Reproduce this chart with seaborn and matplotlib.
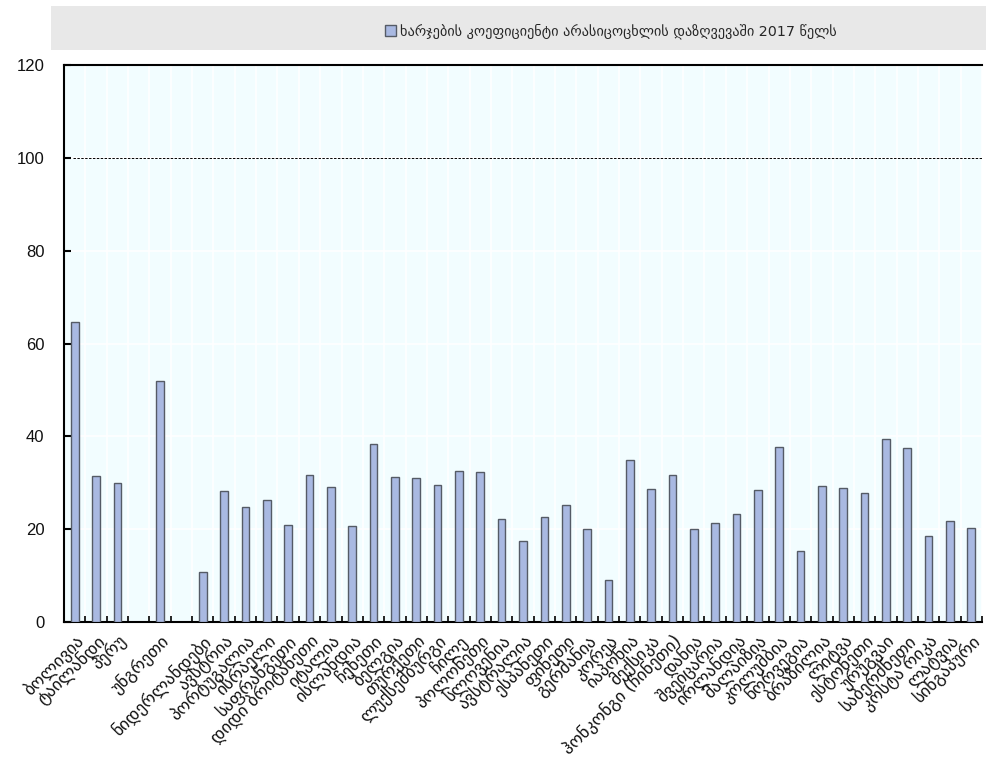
import numpy as np
import pandas as pd
import seaborn as sns
import matplotlib.pyplot as plt
from matplotlib.patches import Rectangle, Patch

# Expense ratio in non-life insurance, 2017 (%)
countries = [
    "ბოლივია", "ტაილანდი", "პერუ", " ", "უნგრეთი", "  ",
    "ნიდერლანდები", "ავსტრია", "პორტუგალია", "ისრაელი", "საფრანგეთი",
    "დიდი ბრიტანეთი", "იტალია", "ისლანდია", "ჩეხეთი", "ბელგია",
    "თურქეთი", "ლუქსემბურგი", "ჩილე", "პოლონეთი", "სლოვენია",
    "ავსტრალია", "ესპანეთი", "ფინეთი", "გერმანია", "კორეა",
    "იაპონია", "მექსიკა", "ჰონკონგი (ჩინეთი)", "დანია", "შვეიცარია",
    "ირლანდია", "მალაიზია", "კოლუმბია", "ნორვეგია", "ბრაზილია",
    "ლიტვა", "ესტონეთი", "ურუგვაი", "საბერძნეთი", "კოსტა რიკა",
    "ლატვია", "სინგაპური",
]
values = [
    64.7, 31.5, 30.0, np.nan, 52.0, np.nan,
    10.8, 28.3, 24.7, 26.3, 20.8,
    31.7, 29.0, 20.7, 38.4, 31.2,
    31.0, 29.6, 32.6, 32.4, 22.2,
    17.5, 22.6, 25.2, 20.1, 9.0,
    34.8, 28.6, 31.6, 20.1, 21.4,
    23.2, 28.4, 37.8, 15.4, 29.4,
    28.8, 27.8, 39.4, 37.5, 18.6,
    21.8, 20.3,
]
series_label = "ხარჯების კოეფიციენტი არასიცოცხლის დაზღვევაში 2017 წელს"
y_ticks = [0, 20, 40, 60, 80, 100, 120]

df = pd.DataFrame({"country": countries, "value": values})

sns.set_theme(style="white")
plt.rcParams["font.family"] = ["Liberation Sans", "DejaVu Sans"]

bar_color = "#a9b9e2"
edge_color = "#555b66"

fig = plt.figure(figsize=(9.86, 7.62), dpi=100)
ax = fig.add_axes([64 / 986, 1 - 622 / 762, (982 - 64) / 986, (622 - 65) / 762])
ax.set_facecolor("#f2fdff")

sns.barplot(data=df, x="country", y="value", order=countries, ax=ax,
            color=bar_color, edgecolor=edge_color, linewidth=1.0,
            width=0.36, saturation=1, errorbar=None, zorder=3)

n = len(countries)
ax.set_xlim(-0.5, n - 0.5)
ax.set_ylim(0, 120)
ax.set_yticks(y_ticks)
ax.set_yticklabels([str(t) for t in y_ticks], fontsize=12, color="#111111")

# white grid on the pale background
ax.set_xticks(np.arange(-0.5, n, 1), minor=True)
ax.grid(which="minor", axis="x", color="white", lw=1.2, zorder=0)
ax.grid(which="major", axis="y", color="white", lw=1.2, zorder=0)
ax.set_axisbelow(True)

ax.tick_params(axis="x", which="major", length=0, pad=7)
ax.tick_params(axis="x", which="minor", direction="in", length=4, width=1.2,
               color="black", bottom=True)
ax.tick_params(axis="y", direction="in", length=5, width=1.5, color="black",
               left=True, pad=14)

ax.set_xticklabels(countries, rotation=45, ha="right", va="top",
                   rotation_mode="anchor", family="DejaVu Sans", fontsize=12.5,
                   color="#111111")
ax.set_xlabel("")
ax.set_ylabel("")

for side in ["left", "bottom", "top"]:
    ax.spines[side].set_visible(True)
    ax.spines[side].set_color("black")
    ax.spines[side].set_linewidth(1.5)
ax.spines["right"].set_visible(False)

# reference line at 100
ax.axhline(100, xmin=0.01, xmax=1, color="black", lw=0.7,
           ls=(0, (2.5, 1.5)), zorder=2)

# legend band across the top
fig.patches.append(Rectangle((51 / 986, 1 - 50 / 762), (986 - 51) / 986, 44 / 762,
                             transform=fig.transFigure, facecolor="#e8e8e8",
                             edgecolor="none", zorder=0))
handle = Patch(facecolor=bar_color, edgecolor=edge_color, linewidth=1.0)
fig.legend(handles=[handle], labels=[series_label], loc="center",
           bbox_to_anchor=(611 / 986, 1 - 31 / 762), frameon=False,
           prop={"family": "DejaVu Sans", "size": 10.3},
           handlelength=0.8, handleheight=0.8, handletextpad=0.3)

fig.savefig("out.png", dpi=100)
